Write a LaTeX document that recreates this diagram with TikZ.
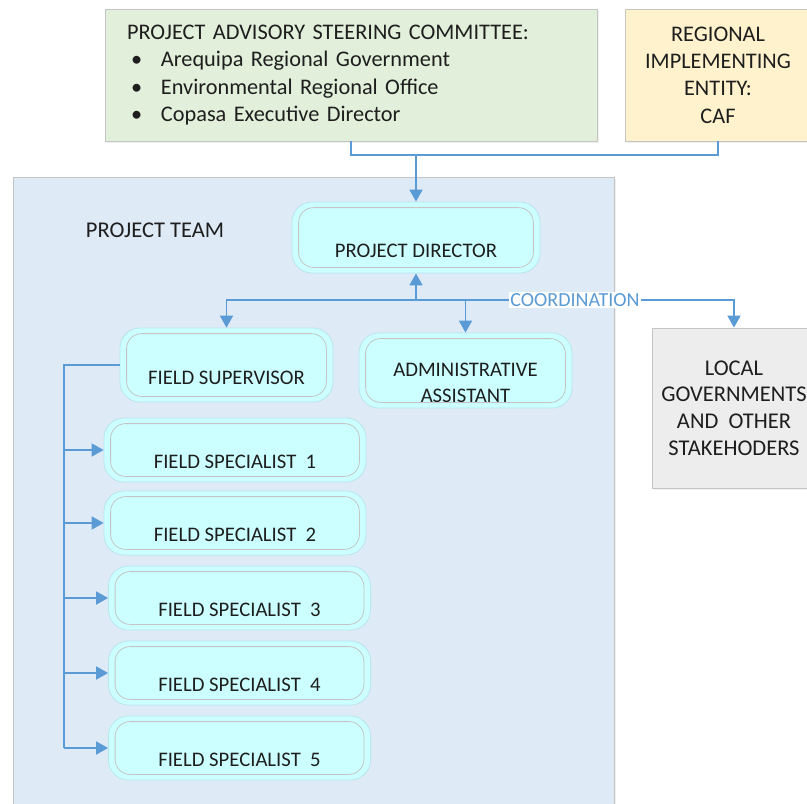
\documentclass[tikz,border=0pt]{standalone}
\usepackage{fontspec}
\setmainfont{Carlito}
\usetikzlibrary{arrows.meta,shadows,positioning}

\definecolor{teamblue}{HTML}{DEEAF6}
\definecolor{advgreen}{HTML}{E2EFDA}
\definecolor{entyellow}{HTML}{FFF2CC}
\definecolor{localgray}{HTML}{EDEDED}
\definecolor{rolecyan}{HTML}{CCFFFF}
\definecolor{linkblue}{HTML}{5B9BD5}
\definecolor{edgegray}{HTML}{C4C4C4}
\definecolor{rimcyan}{HTML}{B8E6EE}
\definecolor{inktext}{HTML}{1E1E1E}

\tikzset{
  flatbox/.style={draw=edgegray, line width=0.8pt, inner sep=0pt, text=inktext,
    drop shadow={shadow xshift=1.5pt, shadow yshift=-2pt, fill=black!10}},
  rolebox/.style={draw=rimcyan, fill=rolecyan, line width=0.8pt, rounded corners=20pt,
    inner sep=0pt, text=inktext, font=\fontsize{20.7}{26}\selectfont,
    drop shadow={shadow xshift=1pt, shadow yshift=-2pt, fill=linkblue!20}},
  innerrim/.style={draw=edgegray, line width=0.8pt, rounded corners=15pt},
  onerow/.style={text height=50pt, text depth=14pt, minimum width=262pt},
  link/.style={draw=linkblue, line width=1.8pt, -{Triangle[width=13pt,length=12pt]}},
  trunkline/.style={draw=linkblue, line width=1.8pt},
}

\begin{document}
\begin{tikzpicture}[x=1pt, y=-1pt]
  \clip (0,0) rectangle (807,804);
  \fill[white] (0,0) rectangle (807,804);

  % outer bodies
  \node[flatbox, fill=teamblue, minimum width=601pt, minimum height=640pt, anchor=north west] (team) at (13,177) {};
  \node[text=inktext, font=\fontsize{22.5}{26}\selectfont] (teamlbl) at (155,230) {PROJECT TEAM};

  \node[flatbox, fill=advgreen, minimum height=132pt, text width=448pt, inner xsep=22pt,
        align=left, font=\fontsize{22.3}{27.3}\selectfont] (pasc) at (351,75)
    {PROJECT ADVISORY STEERING COMMITTEE:\\
     \makebox[34pt][l]{\hspace{4pt}\textbullet}Arequipa Regional Government\\
     \makebox[34pt][l]{\hspace{4pt}\textbullet}Environmental Regional Office\\
     \makebox[34pt][l]{\hspace{4pt}\textbullet}Copasa Executive Director};
  \node[flatbox, fill=entyellow, minimum width=186pt, minimum height=132pt, align=center,
        font=\fontsize{22.3}{27.3}\selectfont] (rie) at (718,75)
    {REGIONAL\\IMPLEMENTING\\ENTITY:\\CAF};
  \node[flatbox, fill=localgray, minimum width=164pt, minimum height=160pt, align=center,
        font=\fontsize{22.5}{26.7}\selectfont] (lg) at (734,408)
    {LOCAL\\GOVERNMENTS\\AND\ \ OTHER\\STAKEHODERS};

  % team roles
  \node[rolebox, minimum width=248pt, text height=55pt, text depth=16pt] (pd) at (416,237.5) {PROJECT DIRECTOR};
  \node[rolebox, minimum width=213pt, text height=56pt, text depth=18pt] (fsup) at (226.5,365) {FIELD SUPERVISOR};
  \node[rolebox, minimum width=213pt, minimum height=75pt, align=center] (admin) at (465.5,370.5)
    {\rule{0pt}{38pt}ADMINISTRATIVE\\ASSISTANT};
  \node[rolebox, onerow] (fs1) at (235,450) {FIELD SPECIALIST\ \ 1};
  \node[rolebox, onerow] (fs2) at (235,523) {FIELD SPECIALIST\ \ 2};
  \node[rolebox, onerow] (fs3) at (239.5,598) {FIELD SPECIALIST\ \ 3};
  \node[rolebox, onerow] (fs4) at (239.5,673) {FIELD SPECIALIST\ \ 4};
  \node[rolebox, onerow] (fs5) at (239.5,748) {FIELD SPECIALIST\ \ 5};
  \foreach \n in {pd,fsup,admin,fs1,fs2,fs3,fs4,fs5}
    \draw[innerrim] ([shift={(7pt,-6pt)}]\n.north west) rectangle ([shift={(-7pt,6pt)}]\n.south east);

  % connectors
  \coordinate (join) at (416,155);
  \draw[trunkline] (pasc.south) |- (join) -| (rie.south);
  \draw[link] (join) -- (pd.north);

  \coordinate (hub) at (416,300);
  \draw[link] (hub) -- (pd.south);
  \draw[link] (hub) -| (fsup.north);
  \draw[link] (hub) -| (admin.north);
  \draw[link] (hub) -| node[pos=0.25, fill=white, text=linkblue, inner sep=1pt,
        font=\fontsize{20}{22}\selectfont] (coord) {COORDINATION} (lg.north);

  \coordinate (trunk) at (64,365);
  \draw[trunkline] (fsup.west) -| (trunk |- fs5.west);
  \foreach \i in {1,...,5}
    \draw[link] (trunk |- fs\i.west) -- (fs\i.west);
\end{tikzpicture}
\end{document}
